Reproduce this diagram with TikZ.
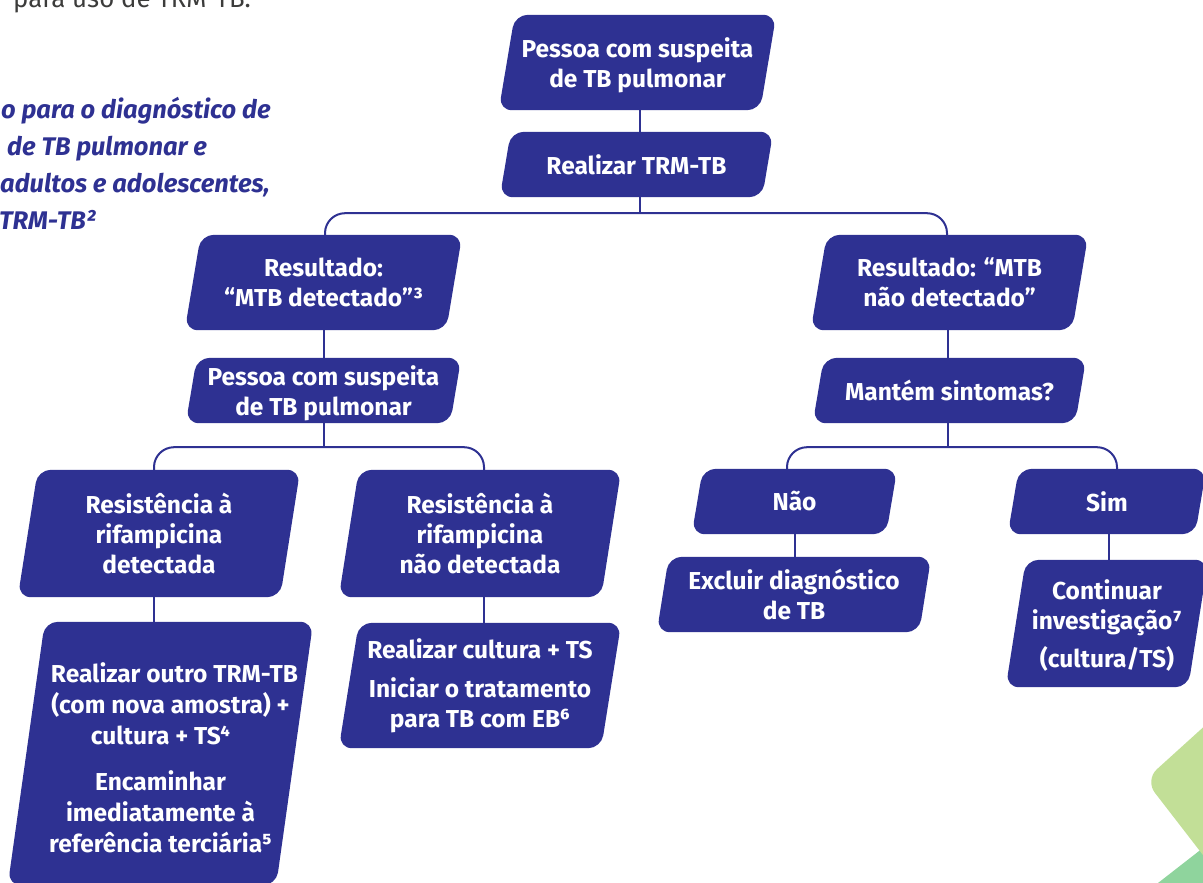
\documentclass[tikz,border=0pt]{standalone}
\usepackage{fontspec}
\setmainfont{Fira Sans}
\usetikzlibrary{calc,backgrounds}
\definecolor{navy}{HTML}{2E3192}
\definecolor{lgreen}{HTML}{C2DF97}
\definecolor{dgreen}{HTML}{8FD49D}
\definecolor{tgray}{HTML}{3C3C3B}
\newcommand\pbox[7]{%
  \node[boxtext, minimum width=#4pt, minimum height=#5pt] (#1) at (#2,#3) {#7};
  \begin{scope}[on background layer]
    \fill[navy, rounded corners=13pt] ([xshift=#6pt]#1.north west) -- (#1.north east) -- ([xshift=-#6pt]#1.south east) -- (#1.south west) -- cycle;
  \end{scope}}
\newcommand\lowerby[1]{\rule{0pt}{#1}}
\begin{document}
\begin{tikzpicture}[x=1pt, y=-1pt,
  conn/.style={draw=navy, line width=2pt},
  boxtext/.style={text=white, font=\bfseries\fontsize{24.5}{30}\selectfont, align=center, inner sep=0pt},
  titletext/.style={text=navy, font=\bfseries\itshape\fontsize{25.5}{37}\selectfont, anchor=base west, inner sep=0pt}]
\clip (0,0) rectangle (1203,883);
\useasboundingbox (0,0) rectangle (1203,883);

% decorative green shapes
\fill[dgreen] (1142.6,895) -- (1215,838.6) -- (1215,895) -- cycle;
\fill[lgreen, rounded corners=16pt] (1230,703) -- (1145,780) -- (1230,890) -- cycle;

% texts at the top left
\node[anchor=base west, inner sep=0pt, text=tgray, font=\fontsize{25.8}{28}\selectfont] (top) at (13,8) {para uso de TRM-TB.};
\node[titletext] (t1) at (1,118) {o para o diagnóstico de};
\node[titletext] (t2) at (7,155) {de TB pulmonar e};
\node[titletext] (t3) at (0,192) {adultos e adolescentes,};
\node[titletext] (t4) at (-1,229) {TRM-TB²};

% boxes
\pbox{b1}{637.5}{62.5}{277}{95}{16}{\lowerby{26pt}Pessoa com suspeita\\de TB pulmonar}
\pbox{b2}{636.5}{164.5}{273}{65}{11}{Realizar TRM-TB}
\pbox{b3}{323.5}{282.5}{277}{95}{16}{Resultado:\\“MTB detectado”³}
\pbox{b4}{323.5}{390.5}{275}{65}{11}{\lowerby{26pt}Pessoa com suspeita\\de TB pulmonar}
\pbox{b5}{949.5}{282.5}{277}{95}{16}{Resultado: “MTB\\não detectado”}
\pbox{b6}{949.5}{390.5}{273}{65}{11}{Mantém sintomas?}
\pbox{b7}{159}{533.5}{282}{127}{20}{Resistência à\\rifampicina\\detectada}
\pbox{b8}{480}{533.5}{282}{127}{20}{Resistência à\\rifampicina\\não detectada}
\pbox{b9}{160.5}{753.5}{305}{263}{37}{\lowerby{28pt}\hspace*{28pt}Realizar outro TRM-TB\\[1pt]\hspace*{20pt}(com nova amostra) +\\[1pt]cultura + TS⁴\\[16pt]Encaminhar\\[1pt]imediatamente à\\[1pt]referência terciária⁵}
\pbox{b10}{480}{685.5}{282}{125}{20}{Realizar cultura + TS\\[9pt]Iniciar o tratamento\\para TB com EB⁶}
\pbox{b11}{794.5}{501.5}{205}{65}{11}{Não}
\pbox{b12}{1107}{501.5}{198}{65}{11}{Sim}
\pbox{b13}{794}{594.5}{274}{75}{12}{Excluir diagnóstico\\de TB}
\pbox{b14}{1107}{623.5}{202}{127}{20}{\lowerby{24pt}Continuar\\investigação⁷\\[8pt](cultura/TS)}

% connectors
\draw[conn] ([xshift=2.5pt]b1.south) -- ([xshift=3.5pt]b2.north);
\coordinate (j1) at ([xshift=3.5pt, yshift=-16pt]b2.south);
\draw[conn] ([xshift=3.5pt]b2.south) -- (j1);
\draw[conn, rounded corners=20pt] ([xshift=1.5pt]b3.north) |- (j1) -| ([xshift=-2.5pt]b5.north);
\draw[conn] (b3.south) -- (b4.north);
\coordinate (j2) at ([yshift=-24pt]b4.south);
\draw[conn] (b4.south) -- (j2);
\draw[conn, rounded corners=20pt] ([xshift=-5pt]b7.north) |- (j2) -| ([xshift=4pt]b8.north);
\draw[conn] ([xshift=-5pt]b7.south) -- ([xshift=-6.5pt]b9.north);
\draw[conn] ([xshift=4pt]b8.south) -- ([xshift=4pt]b10.north);
\draw[conn] ([xshift=-1.5pt]b5.south) -- ([xshift=-1.5pt]b6.north);
\coordinate (j3) at ([xshift=-1.5pt, yshift=-24pt]b6.south);
\draw[conn] ([xshift=-1.5pt]b6.south) -- (j3);
\draw[conn, rounded corners=20pt] ([xshift=-7.5pt]b11.north) |- (j3) -| ([xshift=10pt]b12.north);
\draw[conn] ([xshift=0.5pt]b11.south) -- ([xshift=1pt]b13.north);
\draw[conn] ([xshift=2pt]b12.south) -- ([xshift=2pt]b14.north);
\end{tikzpicture}
\end{document}
